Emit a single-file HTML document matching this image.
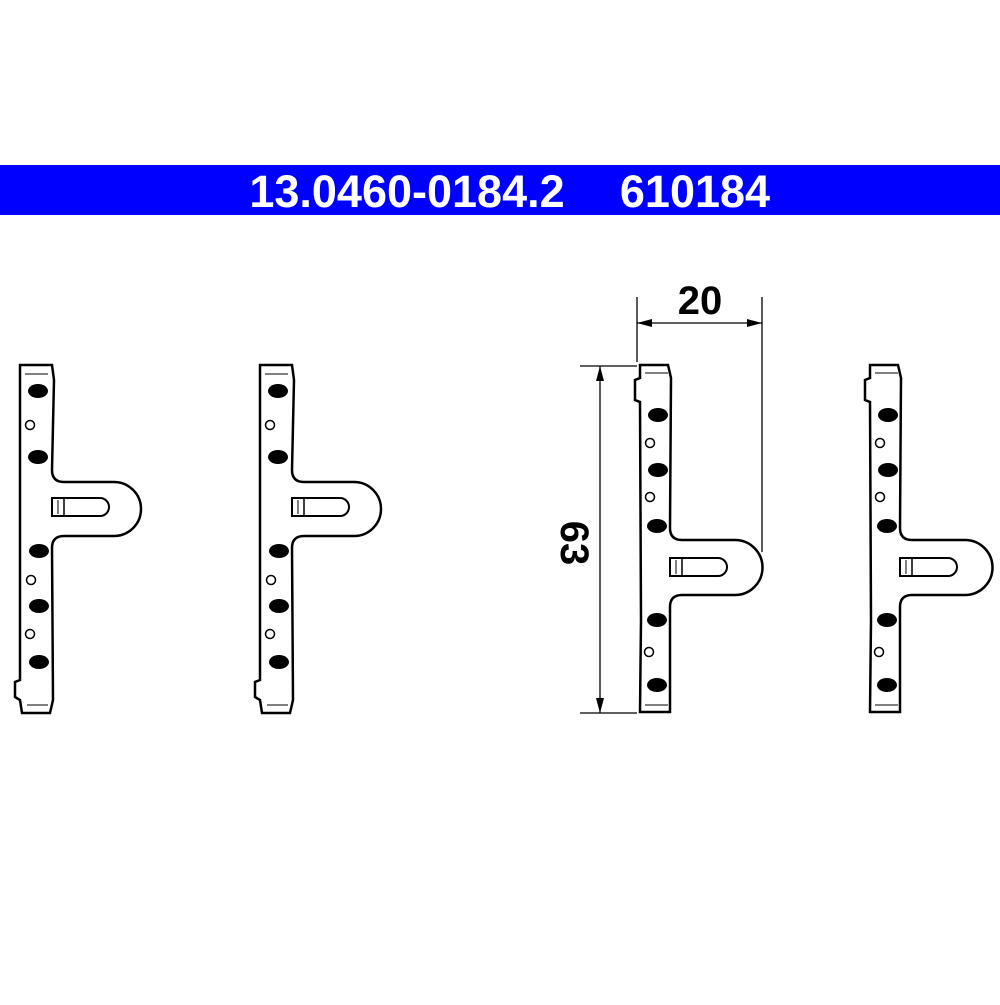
<!DOCTYPE html>
<html><head><style>
body{margin:0;background:#fff;width:1000px;height:1000px;overflow:hidden}
</style></head><body>
<svg width="1000" height="1000" viewBox="0 0 1000 1000" xmlns="http://www.w3.org/2000/svg">
<defs>
<g id="partA" fill="none" stroke="#000" stroke-width="2.5">
  <path d="M20,365 L52,365 L54,380 L52,470 Q52,482 64,482 L114,482 A27,27 0 0 1 114,536 L64,536 Q52,536 52,548 L53,700 L50,713 L22,713 L20,700 L15,697 L15,682 L20,680 Z"/>
  <path d="M52,498 L100,498 A9,9 0 0 1 100,516 L52,516 Z" stroke-width="2"/>
  <line x1="64" y1="498" x2="64" y2="516" stroke-width="1.5"/>
  <line x1="58" y1="500" x2="58" y2="514" stroke-width="1"/>
  <line x1="25" y1="374" x2="48" y2="374" stroke-width="1"/>
  <line x1="27" y1="705" x2="48" y2="705" stroke-width="1"/>
  <g fill="#000" stroke="none">
    <ellipse cx="38" cy="391" rx="10" ry="7"/>
    <ellipse cx="38" cy="457" rx="10" ry="7"/>
    <ellipse cx="39" cy="551" rx="10" ry="7"/>
    <ellipse cx="39" cy="606" rx="10" ry="7"/>
    <ellipse cx="39" cy="662" rx="10" ry="7"/>
  </g>
  <circle cx="30" cy="425" r="4.5" stroke-width="1.5"/>
  <circle cx="31" cy="580" r="4.5" stroke-width="1.5"/>
  <circle cx="30" cy="634" r="4.5" stroke-width="1.5"/>
</g>
<g id="partB" fill="none" stroke="#000" stroke-width="2.5">
  <path d="M640,365 L668,365 L671,378 L670,528 Q670,540 682,540 L735,540 A27.5,27.5 0 0 1 735,595 L682,595 Q670,595 670,607 L670,712 L640,712 L641,620 L640,402 L635,400 L635,380 L640,378 Z"/>
  <path d="M670,558 L718,558 A9,9 0 0 1 718,576 L670,576 Z" stroke-width="2"/>
  <line x1="682" y1="558" x2="682" y2="576" stroke-width="1.5"/>
  <line x1="676" y1="560" x2="676" y2="574" stroke-width="1"/>
  <line x1="645" y1="373" x2="668" y2="373" stroke-width="1"/>
  <line x1="645" y1="705" x2="668" y2="705" stroke-width="1"/>
  <g fill="#000" stroke="none">
    <ellipse cx="658" cy="415" rx="10" ry="7"/>
    <ellipse cx="658" cy="470" rx="10" ry="7"/>
    <ellipse cx="657" cy="526" rx="10" ry="7"/>
    <ellipse cx="657" cy="620" rx="10" ry="7"/>
    <ellipse cx="657" cy="685" rx="10" ry="7"/>
  </g>
  <circle cx="650" cy="443" r="4.5" stroke-width="1.5"/>
  <circle cx="650" cy="497" r="4.5" stroke-width="1.5"/>
  <circle cx="649" cy="652" r="4.5" stroke-width="1.5"/>
</g>
</defs>
<rect x="0" y="165" width="1000" height="50" fill="#0000ff"/>
<text x="407" y="207" font-family="Liberation Sans, sans-serif" font-weight="bold" font-size="45" fill="#fff" text-anchor="middle">13.0460-0184.2</text>
<text x="695" y="207" font-family="Liberation Sans, sans-serif" font-weight="bold" font-size="45" fill="#fff" text-anchor="middle">610184</text>

<use href="#partA"/>
<use href="#partA" transform="translate(240,0)"/>
<use href="#partB"/>
<use href="#partB" transform="translate(230,0)"/>

<g stroke="#000" stroke-width="1.3" fill="none">
  <line x1="637" y1="297" x2="637" y2="362"/>
  <line x1="762" y1="297" x2="762" y2="552"/>
  <line x1="637" y1="323" x2="762" y2="323"/>
  <line x1="580" y1="366" x2="637" y2="366"/>
  <line x1="580" y1="713" x2="637" y2="713"/>
  <line x1="600" y1="366" x2="600" y2="713"/>
</g>
<g fill="#000">
  <polygon points="637,323 652,319 652,327"/>
  <polygon points="762,323 747,319 747,327"/>
  <polygon points="600,366 596,381 604,381"/>
  <polygon points="600,713 596,698 604,698"/>
</g>
<text x="700" y="314" font-family="Liberation Sans, sans-serif" font-weight="bold" font-size="40" text-anchor="middle">20</text>
<text transform="translate(561,543) rotate(90)" font-family="Liberation Sans, sans-serif" font-weight="bold" font-size="40" text-anchor="middle">63</text>
</svg>
</body></html>
